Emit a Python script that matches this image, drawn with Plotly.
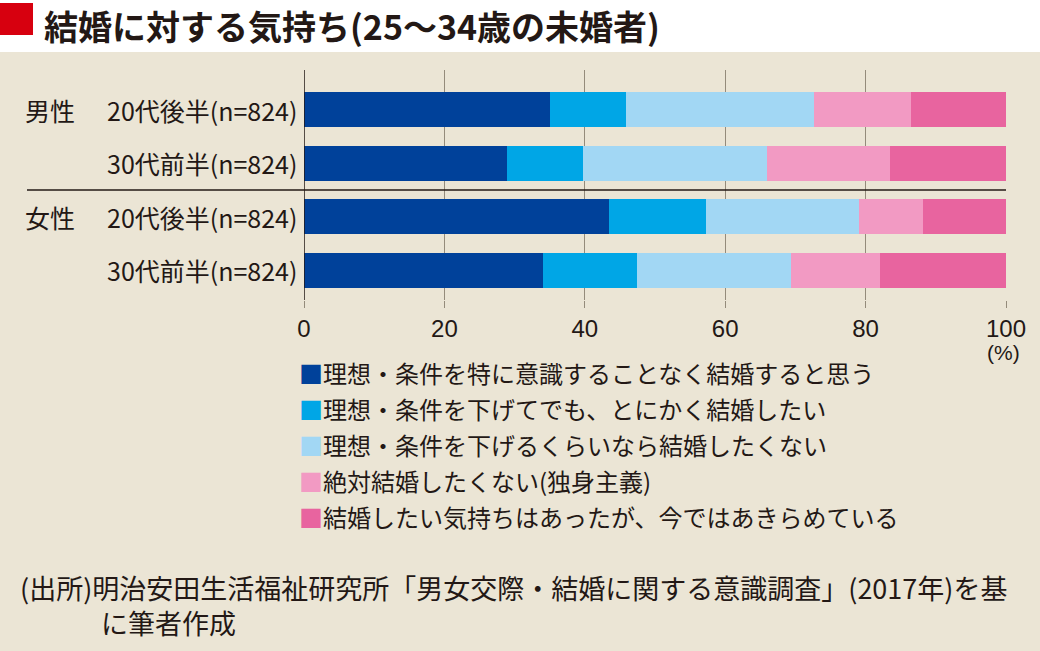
import plotly.graph_objects as go

row_gender = ['男性', '男性', '女性', '女性']
row_age = ['20代後半(n=824)', '30代前半(n=824)', '20代後半(n=824)', '30代前半(n=824)']
rows = [g + ' ' + a for g, a in zip(row_gender, row_age)]
series = ['理想・条件を特に意識することなく結婚すると思う',
          '理想・条件を下げてでも、とにかく結婚したい',
          '理想・条件を下げるくらいなら結婚したくない',
          '絶対結婚したくない(独身主義)',
          '結婚したい気持ちはあったが、今ではあきらめている']
values = [
    [35.1, 28.9, 43.5, 34.1],
    [10.8, 10.8, 13.7, 13.3],
    [26.8, 26.2, 21.8, 22.0],
    [13.7, 17.6, 9.2, 12.6],
    [13.6, 16.5, 11.8, 18.0],
]
colors = ['#00419a', '#00a6e6', '#a2d7f4', '#f29ac3', '#e8649f']
x_ticks = [0, 20, 40, 60, 80, 100]

W, H = 1040, 651
L, R, T, B = 304, 34, 70, 351
PW, PH = W - L - R, H - T - B
BG = '#ebe5d5'
INK = '#231815'
JP = 'Noto Sans CJK JP'
NARROW = 'Liberation Sans Narrow, Liberation Sans, sans-serif'


def px(x):
    return (x - L) / PW


def py(y):
    return (T + PH - y) / PH


fig = go.Figure()
for name, vals, c in zip(series, values, colors):
    fig.add_bar(y=rows, x=vals, name=name, orientation='h', marker_color=c,
                marker_line_width=0, width=0.652, showlegend=False)

fig.update_layout(
    barmode='stack', width=W, height=H,
    margin=dict(l=L, r=R, t=T, b=B),
    paper_bgcolor=BG, plot_bgcolor=BG,
    font=dict(family=JP, color=INK),
)
fig.update_xaxes(range=[0, 100], tickvals=x_ticks, showgrid=True, gridcolor='#948b7b',
                 gridwidth=1, zeroline=False, ticks='outside', ticklen=7, tickcolor='#948b7b',
                 tickfont=dict(family=NARROW, size=24, color=INK), fixedrange=True)
fig.update_yaxes(categoryorder='array', categoryarray=rows, range=[3.55, -0.736],
                 showticklabels=False, ticks='', showline=False, fixedrange=True)

shapes = [
    dict(type='rect', xref='paper', yref='paper', x0=px(0), x1=px(W), y0=py(0), y1=py(52),
         fillcolor='white', line_width=0, layer='below'),
    dict(type='rect', xref='paper', yref='paper', x0=px(0), x1=px(33), y0=py(3), y1=py(35),
         fillcolor='#d7000f', line_width=0),
    dict(type='line', xref='x', yref='paper', x0=0, x1=0, y0=0, y1=1,
         line=dict(color=INK, width=1.5)),
    dict(type='line', xref='paper', yref='y', x0=px(27), x1=1, y0=1.5, y1=1.5,
         line=dict(color=INK, width=1.5)),
]

annotations = [
    dict(text='<b>結婚に対する気持ち(25～34歳の未婚者)</b>', x=px(43), y=py(0),
         font=dict(size=34, family=JP, color=INK), xanchor='left', yanchor='top',
         borderpad=0),
    dict(text='(%)', x=px(1003), y=py(352), font=dict(size=21, family=NARROW),
         xanchor='center'),
    dict(text='(出所)明治安田生活福祉研究所「男女交際・結婚に関する意識調査」(2017年)を基'
              '<br>　　　に筆者作成',
         x=px(18), y=py(605), font=dict(size=27), xanchor='left', align='left'),
]
for i, (g, a, cat) in enumerate(zip(row_gender, row_age, rows)):
    annotations.append(dict(text=a, x=px(299), xref='paper', y=cat, yref='y',
                            font=dict(size=25), xanchor='right'))
    if i == 0 or row_gender[i - 1] != g:
        annotations.append(dict(text=g, x=px(23), xref='paper', y=cat, yref='y',
                                font=dict(size=25), xanchor='left'))
for i, (name, c) in enumerate(zip(series, colors)):
    annotations.append(dict(text=f'<span style="color:{c}">■</span>{name}',
                            x=px(297), y=py(372 + 36 * i), font=dict(size=24),
                            xanchor='left'))
for a in annotations:
    a.setdefault('xref', 'paper')
    a.setdefault('yref', 'paper')
    a['showarrow'] = False
    a.setdefault('yanchor', 'middle')

fig.update_layout(shapes=shapes, annotations=annotations)
fig.write_html('out.html', config={'displayModeBar': False},
               post_script="document.body.style.margin='0';")
